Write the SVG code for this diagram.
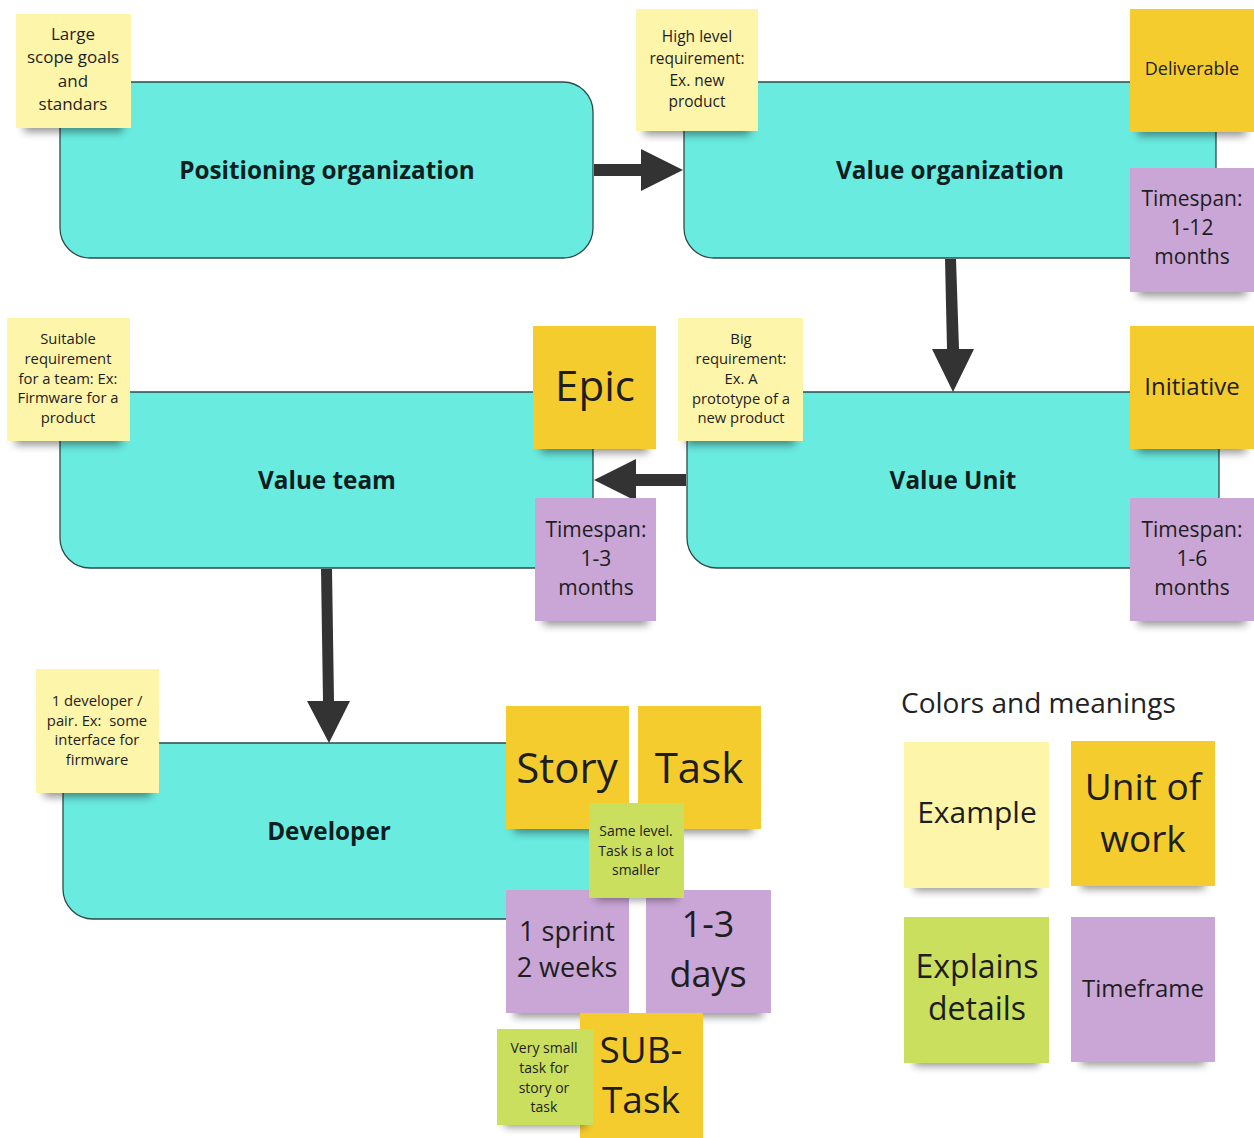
<svg xmlns="http://www.w3.org/2000/svg" width="1254" height="1138" viewBox="0 0 1254 1138">
<defs>
<filter id="blur" x="-20%" y="-100%" width="140%" height="300%"><feGaussianBlur stdDeviation="4"/></filter>
<style>
.box{fill:#6AEBE0;stroke:#2E4A4A;stroke-width:1.3}
.lbl{font-family:"Open Sans","DejaVu Sans",sans-serif;font-weight:bold;font-size:24.3px;fill:#0F1E1E;text-anchor:middle}
.t{font-family:"Open Sans","DejaVu Sans",sans-serif;fill:#1E1E1E;text-anchor:middle}
.sh{fill:#000;opacity:0.42;filter:url(#blur)}
.py{fill:#FDF5AA}
.gd{fill:#F4CC2E}
.pu{fill:#C9A6D6}
.gr{fill:#CADF5E}
.arr{fill:#333333}
</style>
</defs>
<rect width="1254" height="1138" fill="#FFFFFF"/>

<g id="node-positioning">
<rect class="box" x="60" y="82" width="533" height="176" rx="30"/>
<text class="lbl" x="327" y="179">Positioning organization</text>
</g>
<g id="node-value-organization">
<rect class="box" x="684" y="82" width="532" height="176" rx="30"/>
<text class="lbl" x="950" y="179">Value organization</text>
</g>
<g id="node-value-team">
<rect class="box" x="60" y="392" width="533" height="176" rx="30"/>
<text class="lbl" x="327" y="489">Value team</text>
</g>
<g id="node-value-unit">
<rect class="box" x="687" y="392" width="532" height="176" rx="30"/>
<text class="lbl" x="953" y="489">Value Unit</text>
</g>
<g id="node-developer">
<rect class="box" x="63" y="743" width="533" height="176" rx="30"/>
<text class="lbl" x="329" y="840">Developer</text>
</g>

<g id="connectors">
<polygon class="arr" points="594,164 641,164 641,149 683,170 641,191 641,176 594,176"/>
<polygon class="arr" points="945,259 956,259 959,349 974,349 953,392 932,349 947,349"/>
<polygon class="arr" points="686,474 636,474 636,459 594,480 636,501 636,486 686,486"/>
<polygon class="arr" points="321,569 332,569 334,701 350,701 329,743 307,701 323,701"/>
</g>

<g id="sticky-large-scope">
<rect class="sh" x="24" y="118" width="99" height="14"/>
<rect class="py" x="16" y="14" width="115" height="114"/>
<text class="t" font-size="17"><tspan x="73" y="40">Large</tspan><tspan x="73" y="63">scope goals</tspan><tspan x="73" y="87">and</tspan><tspan x="73" y="110">standars</tspan></text>
</g>
<g id="sticky-high-level">
<rect class="sh" x="644" y="121" width="106" height="14"/>
<rect class="py" x="636" y="9" width="122" height="122"/>
<text class="t" font-size="15.5"><tspan x="697" y="42">High level</tspan><tspan x="697" y="64">requirement:</tspan><tspan x="697" y="86">Ex. new</tspan><tspan x="697" y="107">product</tspan></text>
</g>
<g id="sticky-deliverable">
<rect class="sh" x="1138" y="122" width="108" height="14"/>
<rect class="gd" x="1130" y="9" width="124" height="123"/>
<text class="t" font-size="18" x="1192" y="75">Deliverable</text>
</g>
<g id="sticky-timespan-1-12">
<rect class="sh" x="1138" y="282" width="108" height="14"/>
<rect class="pu" x="1130" y="168" width="124" height="124"/>
<text class="t" font-size="21"><tspan x="1192" y="206">Timespan:</tspan><tspan x="1192" y="235">1-12</tspan><tspan x="1192" y="264">months</tspan></text>
</g>
<g id="sticky-suitable">
<rect class="sh" x="15" y="431" width="107" height="14"/>
<rect class="py" x="7" y="318" width="123" height="123"/>
<text class="t" font-size="14.8"><tspan x="68" y="344">Suitable</tspan><tspan x="68" y="364">requirement</tspan><tspan x="68" y="384">for a team: Ex:</tspan><tspan x="68" y="403">Firmware for a</tspan><tspan x="68" y="423">product</tspan></text>
</g>
<g id="sticky-epic">
<rect class="sh" x="541" y="439" width="107" height="14"/>
<rect class="gd" x="533" y="326" width="123" height="123"/>
<text class="t" font-size="42" x="595" y="401">Epic</text>
</g>
<g id="sticky-big-requirement">
<rect class="sh" x="686" y="431" width="109" height="14"/>
<rect class="py" x="678" y="318" width="125" height="123"/>
<text class="t" font-size="14.8"><tspan x="741" y="344">Big</tspan><tspan x="741" y="364">requirement:</tspan><tspan x="741" y="384">Ex. A</tspan><tspan x="741" y="404">prototype of a</tspan><tspan x="741" y="423">new product</tspan></text>
</g>
<g id="sticky-initiative">
<rect class="sh" x="1138" y="439" width="108" height="14"/>
<rect class="gd" x="1130" y="326" width="124" height="123"/>
<text class="t" font-size="24" x="1192" y="395">Initiative</text>
</g>
<g id="sticky-timespan-1-3">
<rect class="sh" x="543" y="611" width="105" height="14"/>
<rect class="pu" x="535" y="498" width="121" height="123"/>
<text class="t" font-size="21"><tspan x="596" y="537">Timespan:</tspan><tspan x="596" y="566">1-3</tspan><tspan x="596" y="595">months</tspan></text>
</g>
<g id="sticky-timespan-1-6">
<rect class="sh" x="1138" y="611" width="108" height="14"/>
<rect class="pu" x="1130" y="498" width="124" height="123"/>
<text class="t" font-size="21"><tspan x="1192" y="537">Timespan:</tspan><tspan x="1192" y="566">1-6</tspan><tspan x="1192" y="595">months</tspan></text>
</g>
<g id="sticky-developer-example">
<rect class="sh" x="44" y="783" width="107" height="14"/>
<rect class="py" x="36" y="669" width="123" height="124"/>
<text class="t" font-size="14.8"><tspan x="97" y="706">1 developer /</tspan><tspan x="97" y="726">pair. Ex:&#160; some</tspan><tspan x="97" y="745">interface for</tspan><tspan x="97" y="765">firmware</tspan></text>
</g>
<g id="sticky-story">
<rect class="sh" x="514" y="819" width="107" height="14"/>
<rect class="gd" x="506" y="706" width="123" height="123"/>
<text class="t" font-size="42" x="567" y="783">Story</text>
</g>
<g id="sticky-task">
<rect class="sh" x="646" y="819" width="107" height="14"/>
<rect class="gd" x="638" y="706" width="123" height="123"/>
<text class="t" font-size="42" x="699" y="783">Task</text>
</g>
<g id="sticky-sprint">
<rect class="sh" x="514" y="1003" width="107" height="14"/>
<rect class="pu" x="506" y="890" width="123" height="123"/>
<text class="t" font-size="27"><tspan x="567" y="941">1 sprint</tspan><tspan x="567" y="977">2 weeks</tspan></text>
</g>
<g id="sticky-days">
<rect class="sh" x="654" y="1003" width="109" height="14"/>
<rect class="pu" x="646" y="890" width="125" height="123"/>
<text class="t" font-size="36" x="708" y="937">1-3</text>
<text class="t" font-size="36" x="708" y="987">days</text>
</g>
<g id="sticky-same-level">
<rect class="sh" x="596" y="888" width="81" height="12"/>
<rect class="gr" x="589" y="803" width="95" height="95"/>
<text class="t" font-size="14"><tspan x="636" y="836">Same level.</tspan><tspan x="636" y="856">Task is a lot</tspan><tspan x="636" y="875">smaller</tspan></text>
</g>
<g id="sticky-subtask">
<rect class="gd" x="580" y="1013" width="123" height="125"/>
<text class="t" font-size="37" x="641" y="1063">SUB-</text>
<text class="t" font-size="37" x="641" y="1113">Task</text>
</g>
<g id="sticky-very-small">
<rect class="sh" x="504" y="1115" width="82" height="12"/>
<rect class="gr" x="497" y="1029" width="96" height="96"/>
<text class="t" font-size="14"><tspan x="544" y="1053">Very small</tspan><tspan x="544" y="1073">task for</tspan><tspan x="544" y="1093">story or</tspan><tspan x="544" y="1112">task</tspan></text>
</g>

<g id="legend">
<text font-family="'Open Sans','DejaVu Sans',sans-serif" font-size="28" fill="#222" x="901" y="713">Colors and meanings</text>
<g id="legend-example">
<rect class="sh" x="914" y="875" width="125" height="16"/>
<rect class="py" x="904" y="742" width="145" height="146"/>
<text class="t" font-size="30" x="977" y="823">Example</text>
</g>
<g id="legend-unit">
<rect class="sh" x="1081" y="873" width="124" height="16"/>
<rect class="gd" x="1071" y="741" width="144" height="145"/>
<text class="t" font-size="37" x="1143" y="800">Unit of</text>
<text class="t" font-size="37" x="1143" y="852">work</text>
</g>
<g id="legend-explains">
<rect class="sh" x="914" y="1050" width="125" height="16"/>
<rect class="gr" x="904" y="917" width="145" height="146"/>
<text class="t" font-size="32" x="977" y="978">Explains</text>
<text class="t" font-size="32" x="977" y="1020">details</text>
</g>
<g id="legend-timeframe">
<rect class="sh" x="1081" y="1049" width="124" height="16"/>
<rect class="pu" x="1071" y="917" width="144" height="145"/>
<text class="t" font-size="24" x="1143" y="997">Timeframe</text>
</g>
</g>
</svg>
